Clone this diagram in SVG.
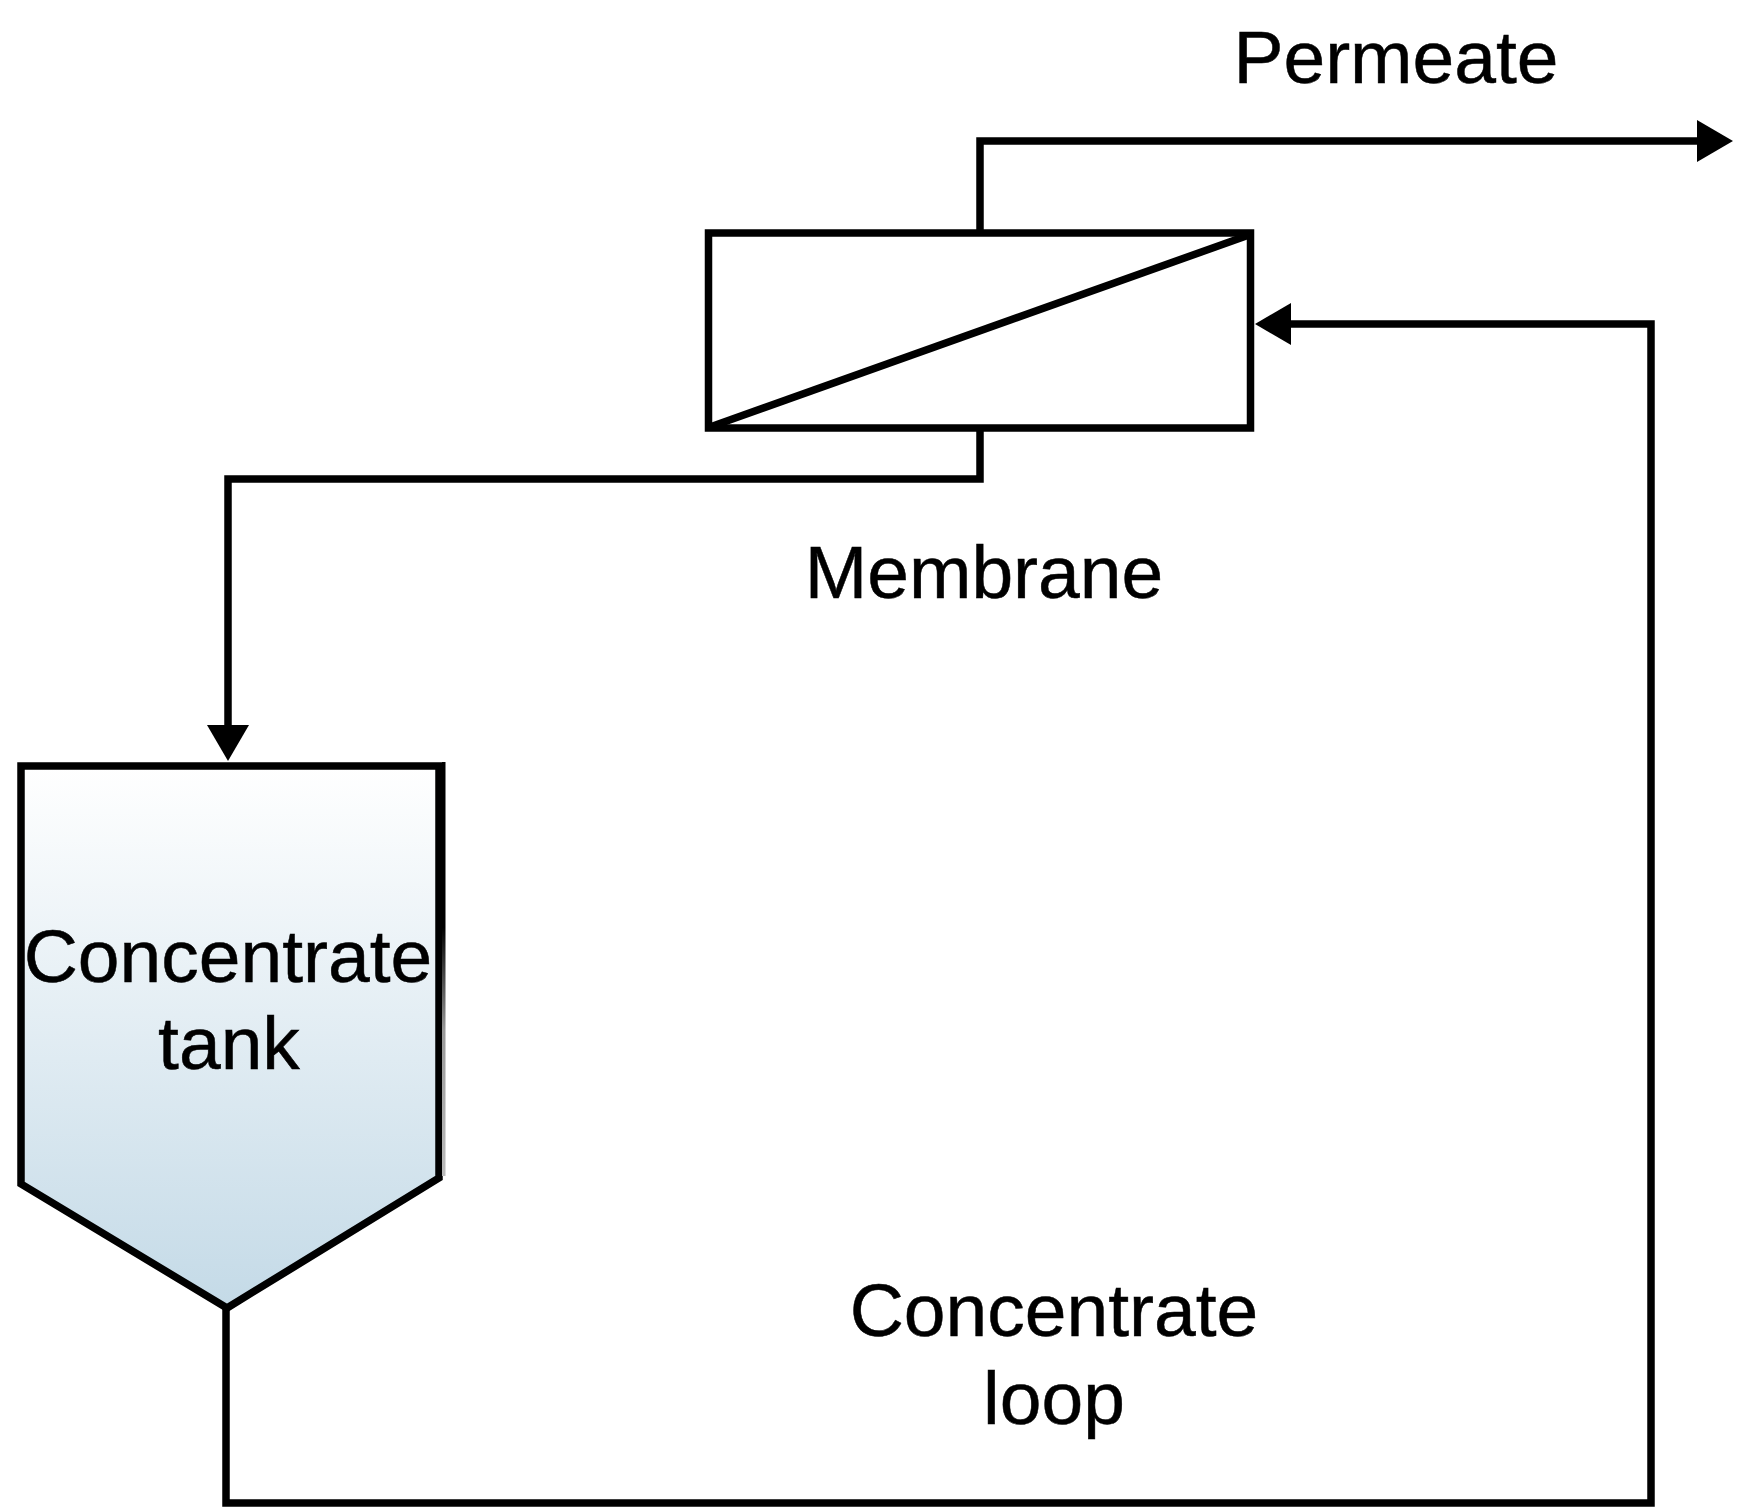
<svg xmlns="http://www.w3.org/2000/svg" width="1737" height="1508" viewBox="0 0 1737 1508">
<style>
.line{fill:none;stroke:#000;stroke-width:7.5}
.lbl{font-family:"Liberation Sans",Arial,sans-serif;font-size:75px;fill:#000;stroke:#000;stroke-width:.5;text-anchor:middle}
</style>
<defs>
<linearGradient id="tankFill" x1="0" y1="0" x2="0" y2="1">
<stop offset="0" stop-color="#ffffff"/>
<stop offset="1" stop-color="#c4dae7"/>
</linearGradient>
<!-- outer edge of the tank's right wall fades out towards the base -->
<linearGradient id="wallFade" x1="0" y1="0" x2="0" y2="1">
<stop offset="0.4" stop-color="#000"/>
<stop offset="0.65" stop-color="#999"/>
<stop offset="1" stop-color="#bbb"/>
</linearGradient>
</defs>
<rect width="1737" height="1508" fill="#fff"/>
<g id="connectors">
<path class="line" d="M980 232V141H1705"/>
<polygon points="1733,141 1697,120 1697,162"/>
<path class="line" d="M980 428V479H228V730"/>
<polygon points="228,761 207,725 249,725"/>
<path class="line" d="M226 1308V1503H1651V324H1285"/>
<polygon points="1255,324 1291,303 1291,345"/>
</g>
<g id="membrane">
<rect class="line" x="708.500" y="233" width="542" height="195"/>
<path class="line" d="M710 427L1249 235"/>
<text class="lbl" x="984" y="598">Membrane</text>
</g>
<g id="tank">
<path d="M21 766H439V1178L227 1308L21 1184Z" fill="url(#tankFill)" stroke="#000" stroke-width="7.500"/>
<rect x="442" y="762" width="3.500" height="414" fill="url(#wallFade)"/>
<text class="lbl" x="228" y="982">Concentrate</text>
<text class="lbl" x="229" y="1069">tank</text>
</g>
<g id="labels">
<text class="lbl" x="1396" y="83">Permeate</text>
<text class="lbl" x="1054" y="1336">Concentrate</text>
<text class="lbl" x="1054" y="1424">loop</text>
</g>
</svg>
